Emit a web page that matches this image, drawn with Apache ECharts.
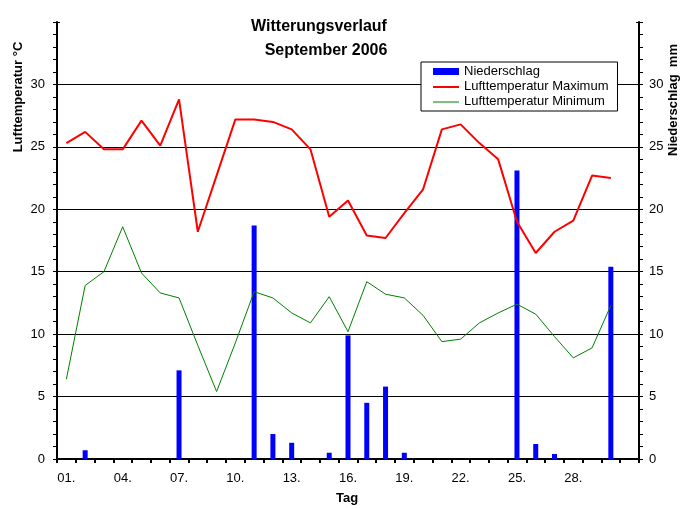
<!DOCTYPE html>
<html>
<head>
<meta charset="utf-8">
<script src="https://cdn.jsdelivr.net/npm/echarts@6/dist/echarts.min.js"></script>
<style>html,body{margin:0;padding:0;background:#fff}#c{width:693px;height:509px}</style>
</head>
<body>
<div id="c"></div>
<script>
// Day slots (31 slots, last one empty)
var days = ['01.','02.','03.','04.','05.','06.','07.','08.','09.','10.','11.','12.','13.','14.','15.',
  '16.','17.','18.','19.','20.','21.','22.','23.','24.','25.','26.','27.','28.','29.','30.',''];
var niederschlag = [0,0.7,0,0,0,0,7.1,0,0,0,18.7,2.0,1.3,0,0.5,9.9,4.5,5.8,0.5,0,0,0,0,0,23.1,1.2,0.4,0,0,15.4,null];
var tempMax = [25.3,26.2,24.8,24.8,27.1,25.1,28.8,18.2,22.7,27.2,27.2,27.0,26.4,24.8,19.4,20.7,17.9,17.7,19.7,21.6,
  26.4,26.8,25.3,24.0,19.0,16.5,18.2,19.1,22.7,22.5,null];
var tempMin = [6.4,13.9,15.0,18.6,14.9,13.3,12.9,9.1,5.4,9.3,13.4,12.9,11.7,10.9,13.0,10.2,14.2,13.2,12.9,11.5,
  9.4,9.6,10.9,11.7,12.4,11.6,9.8,8.1,8.9,12.3,null];

var FONT = "'Liberation Sans Narrow','Liberation Sans',Arial,sans-serif";
var BOLD = "'Liberation Sans',Arial,sans-serif";
var chart = echarts.init(document.getElementById('c'));
var splitColors = ['#000','#000','#000','#000','#000','#000','#000','rgba(0,0,0,0)'];
function yAx(pos, main) {
  return {
    type: 'value', position: pos, min: 0, max: 35, interval: 5,
    axisLine: {show: main, lineStyle: {color: '#000', width: 2}},
    axisTick: {show: true, inside: !main, length: main ? 4 : 3, lineStyle: {color: '#000', width: 1}},
    minorTick: {show: main, splitNumber: 5, length: 4, lineStyle: {color: '#000', width: 1}},
    axisLabel: {show: main, color: '#000', fontFamily: FONT, fontSize: 13,
      margin: pos === 'left' ? 12 : 10,
      formatter: function (v) { return v === 35 ? '' : String(v); }},
    splitLine: {show: main && pos === 'left', lineStyle: {color: splitColors, width: 1}}
  };
}
// legend line icons (bounding box 26x7, line in the middle)
var redIcon = 'path://M0,0L26,0L26,0.01Z M0,3L26,3L26,5L0,5Z M0,7L26,7L26,6.99Z';
var greenIcon = 'path://M0,0L26,0L26,0.01Z M0,3.5L26,3.5L26,4.5L0,4.5Z M0,7L26,7L26,6.99Z';
chart.setOption({
  backgroundColor: '#fff',
  animation: false,
  grid: {left: 57, right: 54, top: 22, bottom: 50},
  legend: {
    orient: 'vertical', left: 421, top: 62,
    backgroundColor: '#fff', borderColor: '#000', borderWidth: 1,
    padding: [2, 9, 2, 12], itemGap: 0, itemWidth: 26, itemHeight: 7,
    textStyle: {color: '#000', fontFamily: BOLD, fontSize: 13, lineHeight: 15},
    data: [{name: 'Niederschlag', icon: 'rect'},
      {name: 'Lufttemperatur Maximum', icon: redIcon},
      {name: 'Lufttemperatur Minimum', icon: greenIcon}]
  },
  xAxis: {
    type: 'category', data: days, boundaryGap: true,
    axisLine: {lineStyle: {color: '#000', width: 2}},
    axisTick: {show: true, interval: 0, length: 4, lineStyle: {color: '#000', width: 2}},
    axisLabel: {interval: 2, color: '#000', fontFamily: FONT, fontSize: 13, margin: 13},
    splitLine: {show: false}
  },
  yAxis: [yAx('left', true), yAx('right', true), yAx('left', false), yAx('right', false)],
  series: [
    {name: 'Niederschlag', type: 'bar', yAxisIndex: 1, data: niederschlag, barWidth: 5,
      itemStyle: {color: '#0000ff'}},
    {name: 'Lufttemperatur Maximum', type: 'line', yAxisIndex: 0, data: tempMax, symbol: 'none',
      lineStyle: {color: '#ff0000', width: 2}, itemStyle: {color: '#ff0000'}},
    {name: 'Lufttemperatur Minimum', type: 'line', yAxisIndex: 0, data: tempMin, symbol: 'none',
      lineStyle: {color: '#008000', width: 1}, itemStyle: {color: '#008000'}}
  ],
  graphic: [
    {type: 'text', x: 319, y: 27, style: {text: 'Witterungsverlauf', font: "bold 16px " + BOLD,
      fill: '#000', textAlign: 'center', textVerticalAlign: 'middle'}},
    {type: 'text', x: 326, y: 51, style: {text: 'September 2006', font: "bold 16px " + BOLD,
      fill: '#000', textAlign: 'center', textVerticalAlign: 'middle'}},
    {type: 'text', x: 18, y: 97, rotation: Math.PI / 2, style: {text: 'Lufttemperatur °C',
      font: "bold 13px " + BOLD, fill: '#000', textAlign: 'center', textVerticalAlign: 'middle'}},
    {type: 'text', x: 673, y: 100, rotation: Math.PI / 2, style: {text: 'Niederschlag  mm',
      font: "bold 13px " + BOLD, fill: '#000', textAlign: 'center', textVerticalAlign: 'middle'}},
    {type: 'text', x: 347, y: 498, style: {text: 'Tag', font: "bold 13px " + BOLD,
      fill: '#000', textAlign: 'center', textVerticalAlign: 'middle'}}
  ]
});
</script>
</body>
</html>
